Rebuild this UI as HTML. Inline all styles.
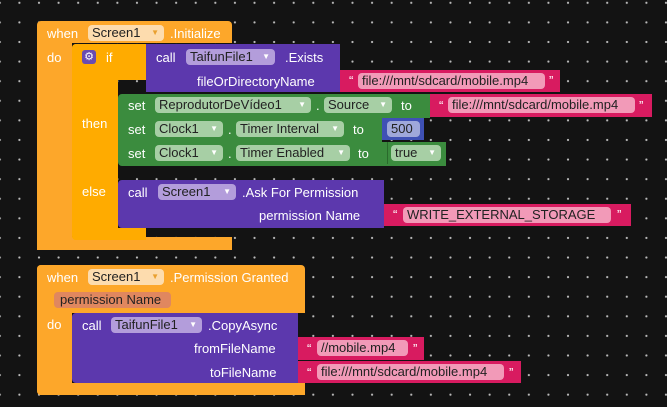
<!DOCTYPE html>
<html><head><meta charset="utf-8"><style>
body{margin:0;width:667px;height:407px;overflow:hidden;background:#131313;
background-image:radial-gradient(circle,#bbb 0.9px,transparent 1.3px);background-size:19.6px 19.6px;background-position:-10px -7px;
font-family:"Liberation Sans",sans-serif;font-size:13px;color:#fff;position:relative}
.b{position:absolute}
.t{position:absolute;white-space:nowrap;line-height:15px}
.o{background:#fda72a}
.y{background:#ffab00}
.p{background:#5c38ad}
.g{background:#3b8c3e}
.k{background:#d81b60}
.dd{position:absolute;height:16px;line-height:16px;border-radius:4px;background:rgba(255,255,255,.45);color:#222;padding:0 0 0 4px;white-space:nowrap;box-sizing:border-box}
.dd i{font-style:normal;font-size:8px;color:#fff;position:absolute;right:5px;top:0}
.od{background:#fddcae}
.od i{color:#e9a030}
.pd{background:#b39ddb}
.gd{background:#a7cfa5}
.kd{background:#f29ab8;color:#222}
</style></head><body>
<!-- block 1 -->
<div class="b o" style="left:37px;top:21px;width:195px;height:22px;border-radius:4px 4px 0 0"></div>
<div class="b o" style="left:37px;top:43px;width:35px;height:207px"></div>
<div class="b o" style="left:37px;top:237px;width:195px;height:13px;border-radius:0 0 0 4px"></div>
<div class="t" style="left:47px;top:26px">when</div>
<div class="dd od" style="left:88px;top:25px;width:76px">Screen1<i>▼</i></div>
<div class="t" style="left:170px;top:26px">.Initialize</div>
<div class="t" style="left:47px;top:50px">do</div>
<!-- if -->
<div class="b y" style="left:72px;top:44px;width:74px;height:36px;border-radius:4px 0 0 0"></div>
<div class="b y" style="left:72px;top:44px;width:46px;height:196px;border-radius:4px 0 0 4px"></div>
<div class="b y" style="left:72px;top:228px;width:74px;height:12px;border-radius:0 0 0 4px"></div>
<div class="b" style="left:82px;top:50px;width:14px;height:14px;background:#6a4cb0;border-radius:3px;text-align:center;line-height:14px;font-size:11px">⚙</div>
<div class="t" style="left:106px;top:50px">if</div>
<div class="t" style="left:82px;top:116px">then</div>
<div class="t" style="left:82px;top:184px">else</div>
<!-- exists -->
<div class="b p" style="left:146px;top:44px;width:194px;height:48px;border-radius:0 0 0 0"></div>
<div class="t" style="left:156px;top:50px">call</div>
<div class="dd pd" style="left:186px;top:49px;width:89px">TaifunFile1<i>▼</i></div>
<div class="t" style="left:285px;top:50px">.Exists</div>
<div class="t" style="left:197px;top:74px">fileOrDirectoryName</div>
<div class="b k" style="left:340px;top:70px;width:220px;height:22px"></div>
<div class="t" style="left:349px;top:73px">“</div>
<div class="dd kd" style="left:358px;top:73px;width:187px">file:///mnt/sdcard/mobile.mp4</div>
<div class="t" style="left:549px;top:73px">”</div>
<!-- sets -->
<div class="b g" style="left:118px;top:94px;width:312px;height:24px;border-radius:4px 0 0 0"></div>
<div class="b g" style="left:118px;top:118px;width:264px;height:24px"></div>
<div class="b g" style="left:118px;top:142px;width:328px;height:24px;border-radius:0 0 0 4px"></div>
<div class="t" style="left:128px;top:98px">set</div>
<div class="dd gd" style="left:155px;top:97px;width:156px">ReprodutorDeVídeo1<i>▼</i></div>
<div class="t" style="left:316px;top:98px">.</div>
<div class="dd gd" style="left:324px;top:97px;width:68px">Source<i>▼</i></div>
<div class="t" style="left:401px;top:98px">to</div>
<div class="b k" style="left:430px;top:94px;width:222px;height:23px"></div>
<div class="t" style="left:439px;top:98px">“</div>
<div class="dd kd" style="left:448px;top:97px;width:187px">file:///mnt/sdcard/mobile.mp4</div>
<div class="t" style="left:639px;top:98px">”</div>
<div class="t" style="left:128px;top:122px">set</div>
<div class="dd gd" style="left:155px;top:121px;width:68px">Clock1<i>▼</i></div>
<div class="t" style="left:228px;top:122px">.</div>
<div class="dd gd" style="left:236px;top:121px;width:108px">Timer Interval<i>▼</i></div>
<div class="t" style="left:353px;top:122px">to</div>
<div class="b" style="left:382px;top:118px;width:42px;height:22px;background:#3f51b5"></div>
<div class="dd" style="left:387px;top:121px;width:33px;background:#9fa8da;color:#222">500</div>
<div class="t" style="left:128px;top:146px">set</div>
<div class="dd gd" style="left:155px;top:145px;width:68px">Clock1<i>▼</i></div>
<div class="t" style="left:228px;top:146px">.</div>
<div class="dd gd" style="left:236px;top:145px;width:114px">Timer Enabled<i>▼</i></div>
<div class="t" style="left:358px;top:146px">to</div>
<div class="dd gd" style="left:391px;top:145px;width:50px">true<i>▼</i></div>
<div class="b" style="left:387px;top:142px;width:1px;height:22px;background:#2a6a2c"></div>
<!-- ask permission -->
<div class="b p" style="left:118px;top:180px;width:266px;height:48px;border-radius:4px 0 0 4px"></div>
<div class="t" style="left:128px;top:185px">call</div>
<div class="dd pd" style="left:158px;top:184px;width:78px">Screen1<i>▼</i></div>
<div class="t" style="left:242px;top:185px">.Ask For Permission</div>
<div class="t" style="left:259px;top:208px">permission Name</div>
<div class="b k" style="left:384px;top:204px;width:247px;height:22px"></div>
<div class="t" style="left:393px;top:207px">“</div>
<div class="dd kd" style="left:403px;top:207px;width:208px;color:#222">WRITE_EXTERNAL_STORAGE</div>
<div class="t" style="left:617px;top:207px">”</div>
<!-- block 2 -->
<div class="b o" style="left:37px;top:265px;width:268px;height:48px;border-radius:4px 4px 0 0"></div>
<div class="b o" style="left:37px;top:265px;width:35px;height:130px;border-radius:4px 0 0 4px"></div>
<div class="b o" style="left:37px;top:383px;width:268px;height:12px;border-radius:0 0 0 4px"></div>
<div class="t" style="left:47px;top:270px">when</div>
<div class="dd od" style="left:88px;top:269px;width:76px">Screen1<i>▼</i></div>
<div class="t" style="left:170px;top:270px">.Permission Granted</div>
<div class="dd" style="left:54px;top:292px;width:117px;background:#e0875f;color:#222;padding-left:6px">permission Name</div>
<div class="t" style="left:47px;top:317px">do</div>
<div class="b p" style="left:72px;top:313px;width:226px;height:70px;border-radius:4px 0 0 4px"></div>
<div class="t" style="left:82px;top:318px">call</div>
<div class="dd pd" style="left:111px;top:317px;width:91px">TaifunFile1<i>▼</i></div>
<div class="t" style="left:208px;top:318px">.CopyAsync</div>
<div class="t" style="left:194px;top:341px">fromFileName</div>
<div class="t" style="left:210px;top:365px">toFileName</div>
<div class="b k" style="left:298px;top:337px;width:126px;height:23px"></div>
<div class="t" style="left:307px;top:341px">“</div>
<div class="dd kd" style="left:317px;top:340px;width:91px">//mobile.mp4</div>
<div class="t" style="left:413px;top:341px">”</div>
<div class="b k" style="left:298px;top:361px;width:223px;height:22px"></div>
<div class="t" style="left:307px;top:365px">“</div>
<div class="dd kd" style="left:317px;top:364px;width:187px">file:///mnt/sdcard/mobile.mp4</div>
<div class="t" style="left:509px;top:365px">”</div>
</body></html>
